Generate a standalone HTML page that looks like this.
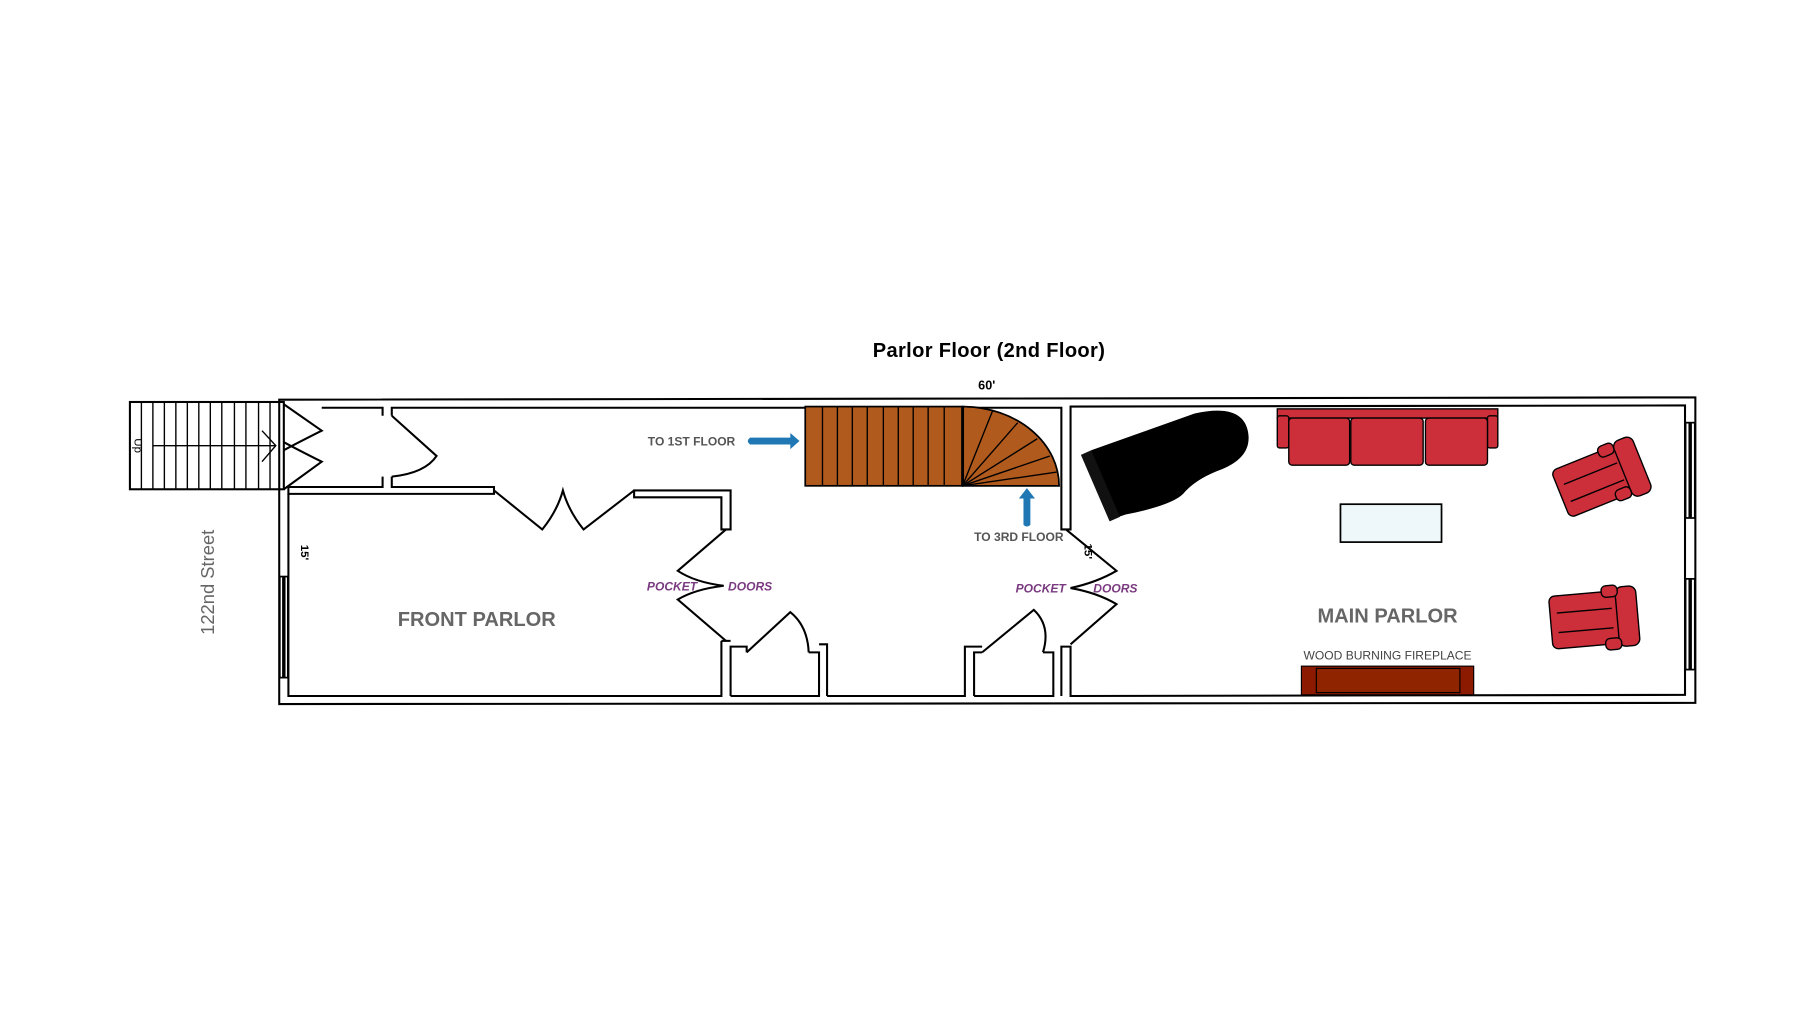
<!DOCTYPE html>
<html><head><meta charset="utf-8"><style>
html,body{margin:0;padding:0;background:#fff;width:1800px;height:1013px;overflow:hidden}
svg{display:block}
text{font-family:"Liberation Sans",sans-serif}
</style></head><body>
<svg width="1800" height="1013" viewBox="0 0 1567 882" xmlns="http://www.w3.org/2000/svg">
<g fill="none" stroke="#000" stroke-width="1.8" stroke-linejoin="miter">
<path d="M243,348 L1476,346 L1476,612 L243,613 Z"/>
<path d="M251,430 L251,606 L628,606 L628,558"/>
<path d="M636,606 L636,563 L650,563 L650,568 M704,568 L713,568 L713,606 L636,606"/>
<path d="M720,606 L720,561 L713,561 M720,606 L840,606 L840,563 L855,563 M848,606 L848,568 L855,568 M908,568 L917,568 L917,606 L848,606 M924,606 L924,563 L932,563 L932,606 L1467,605 L1467,353 L932,354 L932,461 L924,461 L924,355 L341,355 L341,362 M333,362 L333,355 L280,355"/>
<path d="M341,415 L341,424 L430,424 L430,430 L251,430 L251,424 L333,424 L333,415"/>
<path d="M552,427 L636,427 L636,461 L628,461 L628,433 L552,433 Z"/>
<path d="M628,558 L636,558"/>
<path d="M341,362 L380,397 Q370,412 341,415"/>
<path d="M430,427 L472,461 Q485,445 490,427 Q495,445 508,461 L552,427"/>
<path d="M247,352 L280,375 Q260,385 247,392 M247,426 L280,402 Q260,392 247,385"/>
<path d="M632,461 L590,497 Q605,507 630,510 Q605,513 590,522 L632,558"/>
<path d="M928,461 L972,497 Q955,507 932,512 Q955,516 972,526 L932,561"/>
<path d="M650,568 L688,533 Q703,545 704,568"/>
<path d="M855,568 L900,531 Q915,545 908,568"/>
<rect x="113" y="350" width="134" height="76"/>
</g>
<g stroke="#000" stroke-width="1.2">
<line x1="123" y1="350" x2="123" y2="426"/><line x1="133" y1="350" x2="133" y2="426"/><line x1="143" y1="350" x2="143" y2="426"/><line x1="153" y1="350" x2="153" y2="426"/><line x1="163" y1="350" x2="163" y2="426"/><line x1="173" y1="350" x2="173" y2="426"/><line x1="183" y1="350" x2="183" y2="426"/><line x1="193" y1="350" x2="193" y2="426"/><line x1="204" y1="350" x2="204" y2="426"/><line x1="214" y1="350" x2="214" y2="426"/><line x1="225" y1="350" x2="225" y2="426"/><line x1="235" y1="350" x2="235" y2="426"/>
<line x1="133" y1="388" x2="240" y2="388"/>
<path d="M228,375 L240,388 L228,402" fill="none"/>
</g>
<text transform="translate(115,388) rotate(90)" font-size="10" text-anchor="middle" dy="-2">Up</text>
<!-- windows -->
<rect x="243.5" y="502" width="7" height="88" fill="#fff" stroke="#000" stroke-width="1.5"/>
<rect x="245.5" y="502" width="3" height="88" fill="#000"/>
<rect x="1467.5" y="368" width="8" height="83" fill="#fff" stroke="#000" stroke-width="1.5"/>
<rect x="1470" y="368" width="3" height="83" fill="#000"/>
<rect x="1467.5" y="504" width="8" height="79" fill="#fff" stroke="#000" stroke-width="1.5"/>
<rect x="1470" y="504" width="3" height="79" fill="#000"/>
<!-- stairs -->
<rect x="701" y="354" width="137" height="69" fill="#b05a1e" stroke="#000" stroke-width="1.5"/>
<g stroke="#000" stroke-width="1.2">
<line x1="716" y1="354" x2="716" y2="423"/><line x1="729" y1="354" x2="729" y2="423"/><line x1="742" y1="354" x2="742" y2="423"/><line x1="755" y1="354" x2="755" y2="423"/><line x1="769" y1="354" x2="769" y2="423"/><line x1="782" y1="354" x2="782" y2="423"/><line x1="795" y1="354" x2="795" y2="423"/><line x1="808" y1="354" x2="808" y2="423"/><line x1="822" y1="354" x2="822" y2="423"/>
</g>
<path d="M838,354 L840,354 A84,69 0 0 1 922,423 L838,423 Z" fill="#b05a1e" stroke="#000" stroke-width="1.5"/>
<line x1="838" y1="354" x2="838" y2="423" stroke="#000" stroke-width="2.5"/>
<g stroke="#000" stroke-width="1.2">
<line x1="838" y1="423" x2="864" y2="358"/><line x1="838" y1="423" x2="886" y2="368"/><line x1="838" y1="423" x2="903" y2="382"/><line x1="838" y1="423" x2="914" y2="397"/><line x1="838" y1="423" x2="920" y2="411"/>
</g>
<path d="M653,381 L688,381 L688,377 L696,384 L688,391 L688,387 L653,387 Q649,384 653,381Z" fill="#1f77b4"/>
<path d="M891,457 L891,434 L887,434 L894,425 L901,434 L897,434 L897,457 Q894,460 891,457Z" fill="#1f77b4"/>
<!-- piano -->
<path d="M950,392 L1040,360 Q1085,350 1087,380 Q1088,400 1060,410 Q1040,418 1030,430 Q1020,440 980,448 L968,452 Z" fill="#000"/>
<path d="M941,396 L950,392 L975,450 L966,454 Z" fill="#111"/>
<!-- sofa -->
<g fill="#cc2e3a" stroke="#000" stroke-width="1.2">
<rect x="1112" y="356" width="192" height="8"/>
<rect x="1112" y="362" width="10" height="28" rx="2"/>
<rect x="1295" y="362" width="9" height="28" rx="2"/>
<rect x="1122" y="364" width="53" height="41" rx="3"/>
<rect x="1176" y="364" width="63" height="41" rx="3"/>
<rect x="1241" y="364" width="54" height="41" rx="3"/>
</g>
<rect x="1167" y="439" width="88" height="33" fill="#eef7fa" stroke="#000" stroke-width="1.5"/>
<!-- chairs -->
<g fill="#cc2e3a" stroke="#000" stroke-width="1.2">
<g transform="rotate(-22 1392 417)">
<rect x="1356" y="395" width="62" height="44" rx="5"/>
<line x1="1362" y1="410" x2="1412" y2="410"/><line x1="1362" y1="426" x2="1412" y2="426"/>
<rect x="1414" y="392" width="18" height="52" rx="6"/>
<rect x="1400" y="391" width="14" height="10" rx="4"/><rect x="1400" y="432" width="14" height="10" rx="4"/>
</g>
<g transform="rotate(-5 1388 539)">
<rect x="1350" y="516" width="60" height="46" rx="5"/>
<line x1="1356" y1="531" x2="1404" y2="531"/><line x1="1356" y1="548" x2="1404" y2="548"/>
<rect x="1408" y="513" width="18" height="52" rx="6"/>
<rect x="1396" y="511" width="14" height="10" rx="4"/><rect x="1396" y="557" width="14" height="10" rx="4"/>
</g>
</g>
<rect x="1133" y="580" width="150" height="25" fill="#8b1a00" stroke="#000" stroke-width="1"/>
<rect x="1146" y="582" width="125" height="21" fill="#8f2400" stroke="#000" stroke-width="1"/>
<!-- texts -->
<text x="861" y="311" font-size="17.5" font-weight="bold" text-anchor="middle" letter-spacing="0.3">Parlor Floor  (2nd Floor)</text>
<text x="859" y="339" font-size="11" font-weight="bold" text-anchor="middle">60'</text>
<text x="602" y="388" font-size="10.5" font-weight="bold" fill="#555" text-anchor="middle">TO 1ST FLOOR</text>
<text x="887" y="471" font-size="10.5" font-weight="bold" fill="#555" text-anchor="middle">TO 3RD FLOOR</text>
<text x="415" y="545" font-size="17.5" font-weight="bold" fill="#666" text-anchor="middle">FRONT PARLOR</text>
<text x="1208" y="542" font-size="17.5" font-weight="bold" fill="#666" text-anchor="middle">MAIN PARLOR</text>
<text x="1208" y="574" font-size="10.5" fill="#444" text-anchor="middle">WOOD BURNING FIREPLACE</text>
<g font-size="10.5" font-style="italic" font-weight="bold" fill="#7a3a80">
<text x="585" y="514" text-anchor="middle">POCKET</text>
<text x="653" y="514" text-anchor="middle">DOORS</text>
<text x="906" y="516" text-anchor="middle">POCKET</text>
<text x="971" y="516" text-anchor="middle">DOORS</text>
</g>
<text transform="translate(262,481) rotate(90)" font-size="10" font-weight="bold" text-anchor="middle">15'</text>
<text transform="translate(944,480) rotate(90)" font-size="10" font-weight="bold" text-anchor="middle">15'</text>
<text transform="translate(186,507) rotate(-90)" font-size="16" fill="#666" text-anchor="middle">122nd Street</text>
</svg>
</body></html>
